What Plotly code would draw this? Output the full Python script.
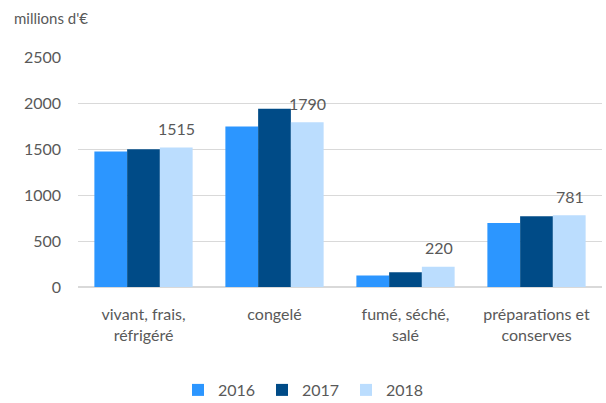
import plotly.graph_objects as go

categories = ["vivant, frais,<br>réfrigéré", "congelé", "fumé, séché,<br>salé", "préparations et<br>conserves"]
years = ["2016", "2017", "2018"]
v2016 = [1472, 1745, 125, 695]
v2017 = [1497, 1938, 160, 770]
v2018 = [1515, 1790, 220, 781]
y_ticks = [0, 500, 1000, 1500, 2000, 2500]

colors = ["#2C96FF", "#004B87", "#BBDDFE"]
series = [v2016, v2017, v2018]

font = "Lato, 'Open Sans', sans-serif"
grey = "#595959"

L, R, T, B = 78, 4, 57, 116
W, H = 606, 403
pw, ph = W - L - R, H - T - B

fig = go.Figure()
for name, vals, col in zip(years, series, colors):
    fig.add_trace(go.Bar(x=categories, y=vals, name=name, marker=dict(color=col, line=dict(width=0))))

annotations = []
for c, v in zip(categories, v2018):
    annotations.append(dict(x=c, y=v, xref="x", yref="y", text=str(v), showarrow=False,
                            xshift=33, yshift=19, yanchor="middle",
                            font=dict(family=font, size=16, color=grey)))
annotations.append(dict(x=(12 - L) / pw, y=(H - B - 18) / ph, xref="paper", yref="paper",
                        text="millions d'€", showarrow=False,
                        xanchor="left", yanchor="middle", font=dict(family=font, size=15, color=grey)))

fig.update_layout(
    width=W, height=H,
    margin=dict(l=L, r=R, t=T, b=B, autoexpand=False),
    paper_bgcolor="white", plot_bgcolor="white",
    barmode="group", bargap=0.25, bargroupgap=0,
    font=dict(family=font, size=16, color=grey),
    showlegend=True,
    legend=dict(orientation="h", x=(192 - 14 - L) / pw, xanchor="left", y=(H - B - 390) / ph, yanchor="middle",
                font=dict(family=font, size=16, color=grey),
                entrywidth=39, entrywidthmode="pixels", itemclick=False),
    annotations=annotations,
)
fig.update_yaxes(range=[0, 2500], tickvals=y_ticks, showgrid=True, gridcolor="#D9D9D9", gridwidth=1,
                 zeroline=True, zerolinecolor="#D9D9D9", zerolinewidth=1.5, showline=False,
                 ticklabelstandoff=16, tickfont=dict(family=font, size=16, color=grey))
fig.update_xaxes(showline=False, showgrid=False, ticks="", ticklabelstandoff=16,
                 tickfont=dict(family=font, size=16, color=grey))

fig.write_html("out.html", config={"displayModeBar": False},
               post_script="document.body.style.margin='0';document.body.style.overflow='hidden';")
